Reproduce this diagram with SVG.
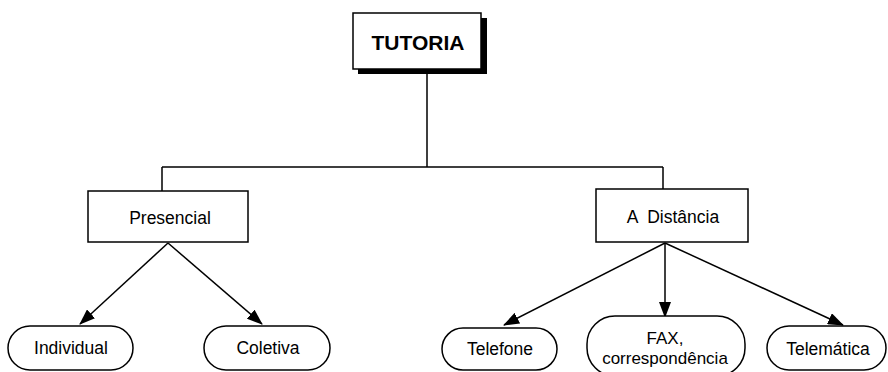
<svg xmlns="http://www.w3.org/2000/svg" width="888" height="372" viewBox="0 0 888 372">
<style>
.box{fill:#fff;stroke:#000;stroke-width:1.5}
.pill{fill:#fff;stroke:#000;stroke-width:1.5}
.t{font-family:"Liberation Sans",Arial,sans-serif;font-size:17.5px;fill:#000;text-anchor:middle}
.ts{font-size:17px}
.tb{font-family:"Liberation Sans",Arial,sans-serif;font-size:21px;font-weight:bold;fill:#000;text-anchor:middle}
.ln{fill:none;stroke:#000;stroke-width:1.5}
</style>
<defs>
<marker id="ah" markerWidth="16" markerHeight="12" refX="15" refY="6" orient="auto" markerUnits="userSpaceOnUse">
<path d="M0,0 L16,6 L0,12 Z" fill="#000"/>
</marker>
</defs>
<g id="connectors">
<path class="ln" d="M427,74 V167 M162,167 H663 M162,167 V191 M663,167 V189"/>
<line class="ln" x1="168" y1="243" x2="80" y2="324" marker-end="url(#ah)"/>
<line class="ln" x1="168" y1="243" x2="262" y2="324" marker-end="url(#ah)"/>
<line class="ln" x1="665" y1="243" x2="504" y2="325" marker-end="url(#ah)"/>
<line class="ln" x1="665" y1="243" x2="665" y2="317" marker-end="url(#ah)"/>
<line class="ln" x1="665" y1="243" x2="843" y2="325" marker-end="url(#ah)"/>
</g>
<g id="tutoria">
<rect x="358" y="18" width="129" height="56" fill="#000"/>
<rect class="box" x="353" y="13" width="128" height="56"/>
<text class="tb" x="418" y="50">TUTORIA</text>
</g>
<g id="presencial">
<rect class="box" x="88" y="191" width="160" height="51"/>
<text class="t" x="170" y="224">Presencial</text>
</g>
<g id="distancia">
<rect class="box" x="596" y="189" width="152" height="53"/>
<text class="t" x="673" y="223" xml:space="preserve">A  Distância</text>
</g>
<g id="individual">
<rect class="pill" x="8" y="326" width="125" height="44" rx="22"/>
<text class="t" x="71" y="354">Individual</text>
</g>
<g id="coletiva">
<rect class="pill" x="204" y="326" width="126" height="44" rx="22"/>
<text class="t" x="268" y="354">Coletiva</text>
</g>
<g id="telefone">
<rect class="pill" x="442" y="328" width="115" height="42" rx="21"/>
<text class="t" x="500" y="355">Telefone</text>
</g>
<g id="fax">
<rect class="pill" x="587" y="316" width="158" height="60" rx="28"/>
<text class="t ts" x="665" y="344">FAX,</text>
<text class="t ts" x="665" y="364">correspondência</text>
</g>
<g id="telematica">
<rect class="pill" x="767" y="326" width="119" height="44" rx="22"/>
<text class="t" x="828" y="355">Telemática</text>
</g>
</svg>
